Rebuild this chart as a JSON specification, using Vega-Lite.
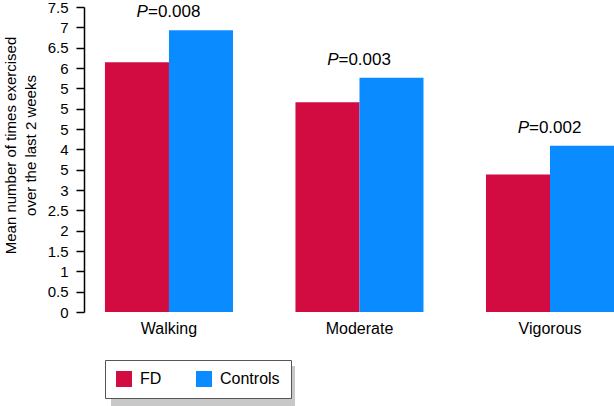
{
  "$schema": "https://vega.github.io/schema/vega-lite/v6.json",
  "description": "Mean number of times exercised over the last 2 weeks, FD vs controls",
  "width": 530,
  "height": 305,
  "autosize": {"type": "none"},
  "padding": {"left": 84, "top": 7, "right": 0, "bottom": 94},
  "background": "white",
  "config": {
    "font": "Liberation Sans",
    "view": {"stroke": null},
    "axis": {"labelColor": "black", "titleColor": "black", "grid": false}
  },
  "data": {
    "values": [
      {"activity": "Walking", "group": "FD", "value": 6.14, "p": "0.008"},
      {"activity": "Walking", "group": "Controls", "value": 6.93, "p": "0.008"},
      {"activity": "Moderate", "group": "FD", "value": 5.16, "p": "0.003"},
      {"activity": "Moderate", "group": "Controls", "value": 5.76, "p": "0.003"},
      {"activity": "Vigorous", "group": "FD", "value": 3.38, "p": "0.002"},
      {"activity": "Vigorous", "group": "Controls", "value": 4.09, "p": "0.002"}
    ]
  },
  "encoding": {
    "x": {
      "field": "activity",
      "type": "nominal",
      "sort": ["Walking", "Moderate", "Vigorous"],
      "scale": {"paddingInner": 0.328, "paddingOuter": 0.055, "align": 1},
      "axis": {
        "title": null,
        "labelAngle": 0,
        "ticks": false,
        "domain": false,
        "labelPadding": 8,
        "labelFontSize": 16
      }
    },
    "y": {
      "field": "value",
      "type": "quantitative",
      "scale": {"domain": [0, 7.5], "nice": false},
      "axis": {
        "title": ["Mean number of times exercised", "over the last 2 weeks"],
        "titleFontSize": 15,
        "titleFontWeight": "normal",
        "titleLineHeight": 20,
        "titleX": -66,
        "titleY": 138,
        "values": [0, 0.5, 1, 1.5, 2, 2.5, 3, 3.5, 4, 4.5, 5, 5.5, 6, 6.5, 7, 7.5],
        "labelExpr": "indexof([3.5, 4.5, 5.5], datum.value) >= 0 ? '5' : toString(datum.value)",
        "labelOverlap": false,
        "labelFlush": false,
        "labelBound": false,
        "labelFontSize": 15,
        "labelPadding": 8,
        "tickSize": 8,
        "tickColor": "black",
        "tickWidth": 1.5,
        "domainColor": "black",
        "domainWidth": 1.5
      }
    }
  },
  "layer": [
    {
      "mark": {"type": "bar"},
      "encoding": {
        "xOffset": {
          "field": "group",
          "sort": ["FD", "Controls"],
          "scale": {"paddingInner": 0, "paddingOuter": 0}
        },
        "color": {
          "field": "group",
          "type": "nominal",
          "scale": {"domain": ["FD", "Controls"], "range": ["#d20b41", "#0a8bff"]},
          "legend": {
            "orient": "none",
            "legendX": 21,
            "legendY": 353,
            "direction": "horizontal",
            "title": null,
            "symbolType": "square",
            "symbolSize": 256,
            "symbolStrokeWidth": 0,
            "labelFontSize": 16,
            "labelColor": "black",
            "labelOffset": 8,
            "columnPadding": 34,
            "padding": 11,
            "fillColor": "white",
            "strokeColor": "#555555",
            "zindex": 2
          }
        }
      }
    },
    {
      "mark": {"type": "bar", "opacity": 0},
      "encoding": {
        "xOffset": {"field": "group", "sort": ["FD", "Controls"]},
        "stroke": {
          "field": "value",
          "type": "quantitative",
          "scale": {"range": ["#c8c8c8", "#c8c8c8"]},
          "legend": {
            "orient": "none",
            "legendX": 27,
            "legendY": 359,
            "direction": "horizontal",
            "title": null,
            "gradientLength": 160,
            "gradientThickness": 16,
            "gradientStrokeWidth": 0,
            "labelOpacity": 0,
            "labelFontSize": 1,
            "labelOffset": 0,
            "padding": 12,
            "fillColor": "#c8c8c8",
            "zindex": 1
          }
        }
      }
    },
    {
      "transform": [{"filter": "datum.group == 'Controls'"}],
      "mark": {
        "type": "text",
        "text": "P",
        "fontStyle": "italic",
        "fontSize": 17,
        "align": "right",
        "baseline": "middle",
        "dx": -21,
        "dy": -18,
        "color": "black"
      }
    },
    {
      "transform": [
        {"filter": "datum.group == 'Controls'"},
        {"calculate": "'=' + datum.p", "as": "plabel"}
      ],
      "mark": {
        "type": "text",
        "fontSize": 17,
        "align": "left",
        "baseline": "middle",
        "dx": -21,
        "dy": -18,
        "color": "black"
      },
      "encoding": {
        "text": {"field": "plabel"}
      }
    }
  ]
}
